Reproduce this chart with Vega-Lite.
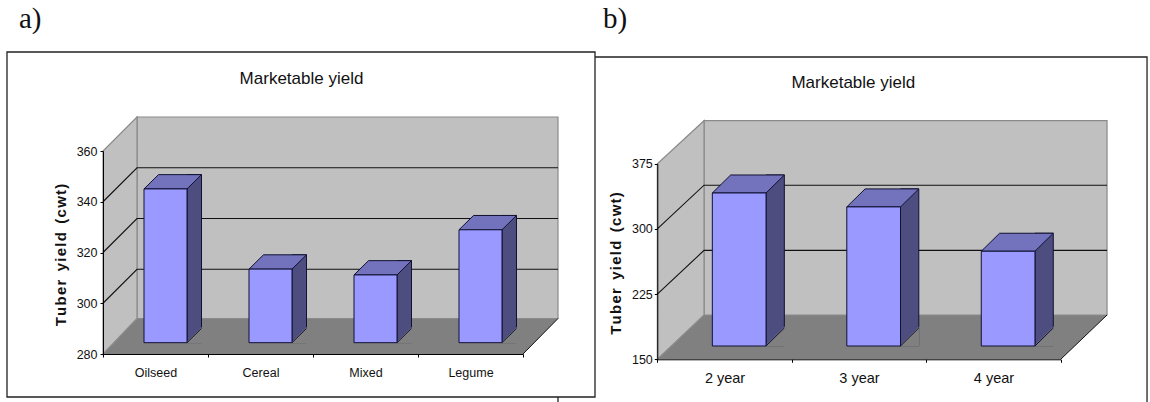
{
  "$schema": "https://vega.github.io/schema/vega-lite/v6.json",
  "padding": 0,
  "spacing": 0,
  "bounds": "flush",
  "background": "white",
  "resolve": {"scale": {"shape": "independent"}},
  "config": {
    "view": {"stroke": null},
    "font": "Liberation Sans",
    "axis": {"grid": false, "domainColor": "#000000", "tickColor": "#000000", "labelColor": "#111111", "titleColor": "#111111", "labelFont": "Liberation Sans", "titleFont": "Liberation Sans"}
  },
  "hconcat": [
    {
      "width": 595,
      "height": 402,
      "data": {"values": [
        {"rotation": "Oilseed", "yield": 340.6},
        {"rotation": "Cereal", "yield": 309},
        {"rotation": "Mixed", "yield": 306.7},
        {"rotation": "Legume", "yield": 324.5}
      ]},
      "layer": [
        {
          "data": {"values": [{"part": "floor"}]},
          "mark": {"type": "point", "filled": true, "size": 4, "opacity": 1, "fill": "#808080", "shape": "M-52.5,0 L-18.5,-35.5 L402.5,-35.5 L367.5,0 Z"},
          "encoding": {
            "x": {"datum": "Oilseed", "type": "nominal", "sort": null, "scale": {"type": "band", "domain": ["Oilseed", "Cereal", "Mixed", "Legume"], "range": [103, 523], "paddingInner": 0, "paddingOuter": 0},
              "axis": {"title": null, "orient": "bottom", "offset": -48, "tickBand": "extent", "tickSize": 3, "labelAngle": 0, "labelFontSize": 12.5, "labelPadding": 9, "zindex": 1}},
            "y": {"datum": 280, "type": "quantitative", "scale": {"domain": [280, 360], "range": [354, 151], "zero": false, "nice": false},
              "axis": {"title": "T\u200au\u200ab\u200ae\u200ar\u2009 \u200ay\u200ai\u200ae\u200al\u200ad\u2009 \u200a(\u200ac\u200aw\u200at\u200a)", "orient": "left", "offset": -103, "values": [280, 300, 320, 340, 360], "tickSize": 3, "labelFontSize": 12.5, "labelPadding": 3, "titleFontSize": 15, "titleFontWeight": "bold", "titleAngle": -90, "titleX": -43, "titleY": 254.5, "titleAlign": "center", "titleBaseline": "middle", "zindex": 1}}
          }
        },
        {
          "data": {"values": [{"part": "back wall"}, {"part": "side wall"}]},
          "mark": {"type": "point", "filled": true, "size": 4, "opacity": 1, "fill": "#c0c0c0", "stroke": "#8a8a8a", "strokeWidth": 1.2},
          "encoding": {
            "x": {"datum": "Oilseed", "type": "nominal"},
            "y": {"datum": 280, "type": "quantitative"},
            "shape": {"field": "part", "type": "nominal", "legend": null, "scale": {"domain": ["back wall", "side wall"], "range": ["M-18.5,-35.5 L-18.5,-237 L402.5,-237 L402.5,-35.5 Z", "M-52.5,0 L-52.5,-203 L-18.5,-237 L-18.5,-35.5 Z"]}}
          }
        },
        {
          "data": {"values": [{"part": "floor edge"}]},
          "mark": {"type": "point", "filled": false, "size": 4, "opacity": 1, "stroke": "#111111", "strokeWidth": 1, "shape": "M367.5,0 L402.5,-35.5"},
          "encoding": {
            "x": {"datum": "Oilseed", "type": "nominal"},
            "y": {"datum": 280, "type": "quantitative"}
          }
        },
        {
          "data": {"values": [{"tick": 300}, {"tick": 320}, {"tick": 340}]},
          "mark": {"type": "point", "filled": false, "size": 4, "opacity": 1, "stroke": "#111111", "strokeWidth": 1.1, "shape": "M-52.5,0 L-18.5,-34 L402.5,-34"},
          "encoding": {
            "x": {"datum": "Oilseed", "type": "nominal"},
            "y": {"field": "tick", "type": "quantitative"}
          }
        },
        {
          "mark": {"type": "bar", "size": 14.5, "xOffset": 38.75, "yOffset": -25.6, "y2Offset": -11.3, "fill": "#4d4d80", "stroke": "#111133", "strokeWidth": 1},
          "encoding": {
            "x": {"field": "rotation", "type": "nominal", "sort": null},
            "y": {"field": "yield", "type": "quantitative"},
            "y2": {"datum": 280}
          }
        },
        {
          "mark": {"type": "point", "filled": true, "size": 4, "opacity": 1, "fill": "#808080", "stroke": "#808080", "strokeWidth": 1.4, "shape": "M31.5,-11.3 L46,-25.6 L46,-11.3 Z"},
          "encoding": {
            "x": {"field": "rotation", "type": "nominal", "sort": null},
            "y": {"datum": 280, "type": "quantitative"}
          }
        },
        {
          "mark": {"type": "point", "filled": false, "size": 4, "opacity": 1, "stroke": "#111133", "strokeWidth": 1, "shape": "M31.5,-11.3 L46,-25.6"},
          "encoding": {
            "x": {"field": "rotation", "type": "nominal", "sort": null},
            "y": {"datum": 280, "type": "quantitative"}
          }
        },
        {
          "mark": {"type": "point", "filled": true, "size": 4, "opacity": 1, "fill": "#7373bd", "stroke": "#111133", "strokeWidth": 1, "shape": "M-11.5,-11.3 L31.5,-11.3 L46,-25.6 L3,-25.6 Z"},
          "encoding": {
            "x": {"field": "rotation", "type": "nominal", "sort": null},
            "y": {"field": "yield", "type": "quantitative"}
          }
        },
        {
          "mark": {"type": "bar", "size": 43, "xOffset": 10, "yOffset": -11.3, "y2Offset": -11.3, "fill": "#9999ff", "stroke": "#111133", "strokeWidth": 1},
          "encoding": {
            "x": {"field": "rotation", "type": "nominal", "sort": null},
            "y": {"field": "yield", "type": "quantitative"},
            "y2": {"datum": 280}
          }
        },
        {
          "data": {"values": [{"part": "frame"}]},
          "mark": {"type": "point", "filled": false, "size": 4, "opacity": 1, "stroke": "#222222", "strokeWidth": 1.3, "shape": "M-148.5,43 L-148.5,-302 L439.5,-302 L439.5,43 Z M402.5,43 L402.5,48"},
          "encoding": {
            "x": {"datum": "Oilseed", "type": "nominal"},
            "y": {"datum": 280, "type": "quantitative"}
          }
        },
        {
          "data": {"values": [{"label": "Marketable yield"}]},
          "mark": {"type": "text", "font": "Liberation Sans", "fontSize": 17, "align": "center", "baseline": "middle", "dx": 146, "dy": -275, "color": "#111111"},
          "encoding": {
            "x": {"datum": "Oilseed", "type": "nominal"},
            "y": {"datum": 280, "type": "quantitative"},
            "text": {"field": "label"}
          }
        },
        {
          "data": {"values": [{"label": "a)"}]},
          "mark": {"type": "text", "font": "Liberation Serif", "fontSize": 29, "align": "left", "baseline": "alphabetic", "dx": -136.5, "dy": -326, "color": "#111111"},
          "encoding": {
            "x": {"datum": "Oilseed", "type": "nominal"},
            "y": {"datum": 280, "type": "quantitative"},
            "text": {"field": "label"}
          }
        }
      ]
    },
    {
      "width": 555,
      "height": 402,
      "data": {"values": [
        {"duration": "2 year", "yield": 326},
        {"duration": "3 year", "yield": 310},
        {"duration": "4 year", "yield": 259}
      ]},
      "layer": [
        {
          "data": {"values": [{"part": "floor"}]},
          "mark": {"type": "point", "filled": true, "size": 4, "opacity": 1, "fill": "#808080", "shape": "M-67.2,0 L-20.5,-44.3 L382.5,-44.3 L336.2,0 Z"},
          "encoding": {
            "x": {"datum": "2 year", "type": "nominal", "sort": null, "scale": {"type": "band", "domain": ["2 year", "3 year", "4 year"], "range": [62.3, 465.7], "paddingInner": 0, "paddingOuter": 0},
              "axis": {"title": null, "orient": "bottom", "offset": -42.7, "tickBand": "extent", "tickSize": 3, "labelAngle": 0, "labelFontSize": 14.5, "labelPadding": 9, "zindex": 1}},
            "y": {"datum": 150, "type": "quantitative", "scale": {"domain": [150, 375], "range": [359.3, 163.7], "zero": false, "nice": false},
              "axis": {"title": "T\u200au\u200ab\u200ae\u200ar\u2009 \u200ay\u200ai\u200ae\u200al\u200ad\u2009 \u200a(\u200ac\u200aw\u200at\u200a)", "orient": "left", "offset": -62.3, "values": [150, 225, 300, 375], "tickSize": 3, "labelFontSize": 12.5, "labelPadding": 2, "titleFontSize": 15, "titleFontWeight": "bold", "titleAngle": -90, "titleX": -42.3, "titleY": 263, "titleAlign": "center", "titleBaseline": "middle", "zindex": 1}}
          }
        },
        {
          "data": {"values": [{"part": "back wall"}, {"part": "side wall"}]},
          "mark": {"type": "point", "filled": true, "size": 4, "opacity": 1, "fill": "#c0c0c0", "stroke": "#8a8a8a", "strokeWidth": 1.2},
          "encoding": {
            "x": {"datum": "2 year", "type": "nominal"},
            "y": {"datum": 150, "type": "quantitative"},
            "shape": {"field": "part", "type": "nominal", "legend": null, "scale": {"domain": ["back wall", "side wall"], "range": ["M-20.5,-44.3 L-20.5,-238.6 L382.5,-238.6 L382.5,-44.3 Z", "M-67.2,0 L-67.2,-195.6 L-20.5,-238.6 L-20.5,-44.3 Z"]}}
          }
        },
        {
          "data": {"values": [{"part": "floor edge"}]},
          "mark": {"type": "point", "filled": false, "size": 4, "opacity": 1, "stroke": "#111111", "strokeWidth": 1, "shape": "M336.2,0 L382.5,-44.3"},
          "encoding": {
            "x": {"datum": "2 year", "type": "nominal"},
            "y": {"datum": 150, "type": "quantitative"}
          }
        },
        {
          "data": {"values": [{"tick": 225}, {"tick": 300}]},
          "mark": {"type": "point", "filled": false, "size": 4, "opacity": 1, "stroke": "#111111", "strokeWidth": 1.1, "shape": "M-67.2,0 L-20.5,-43.7 L382.5,-43.7"},
          "encoding": {
            "x": {"datum": "2 year", "type": "nominal"},
            "y": {"field": "tick", "type": "quantitative"}
          }
        },
        {
          "mark": {"type": "bar", "size": 18.3, "xOffset": 50.65, "yOffset": -31.3, "y2Offset": -13.3, "fill": "#4d4d80", "stroke": "#111133", "strokeWidth": 1},
          "encoding": {
            "x": {"field": "duration", "type": "nominal", "sort": null},
            "y": {"field": "yield", "type": "quantitative"},
            "y2": {"datum": 150}
          }
        },
        {
          "mark": {"type": "point", "filled": true, "size": 4, "opacity": 1, "fill": "#808080", "stroke": "#808080", "strokeWidth": 1.4, "shape": "M41.5,-13.3 L59.8,-31.3 L59.8,-13.3 Z"},
          "encoding": {
            "x": {"field": "duration", "type": "nominal", "sort": null},
            "y": {"datum": 150, "type": "quantitative"}
          }
        },
        {
          "mark": {"type": "point", "filled": false, "size": 4, "opacity": 1, "stroke": "#111133", "strokeWidth": 1, "shape": "M41.5,-13.3 L59.8,-31.3"},
          "encoding": {
            "x": {"field": "duration", "type": "nominal", "sort": null},
            "y": {"datum": 150, "type": "quantitative"}
          }
        },
        {
          "mark": {"type": "point", "filled": true, "size": 4, "opacity": 1, "fill": "#7373bd", "stroke": "#111133", "strokeWidth": 1, "shape": "M-12.2,-13.3 L41.5,-13.3 L59.8,-31.3 L6.1,-31.3 Z"},
          "encoding": {
            "x": {"field": "duration", "type": "nominal", "sort": null},
            "y": {"field": "yield", "type": "quantitative"}
          }
        },
        {
          "mark": {"type": "bar", "size": 53.7, "xOffset": 14.65, "yOffset": -13.3, "y2Offset": -13.3, "fill": "#9999ff", "stroke": "#111133", "strokeWidth": 1},
          "encoding": {
            "x": {"field": "duration", "type": "nominal", "sort": null},
            "y": {"field": "yield", "type": "quantitative"},
            "y2": {"datum": 150}
          }
        },
        {
          "data": {"values": [{"part": "frame"}]},
          "mark": {"type": "point", "filled": false, "size": 4, "opacity": 1, "stroke": "#222222", "strokeWidth": 1.3, "shape": "M-129.5,-302.3 L422.5,-302.3 L422.5,42.7"},
          "encoding": {
            "x": {"datum": "2 year", "type": "nominal"},
            "y": {"datum": 150, "type": "quantitative"}
          }
        },
        {
          "data": {"values": [{"label": "Marketable yield"}]},
          "mark": {"type": "text", "font": "Liberation Sans", "fontSize": 17, "align": "center", "baseline": "middle", "dx": 128.8, "dy": -276.3, "color": "#111111"},
          "encoding": {
            "x": {"datum": "2 year", "type": "nominal"},
            "y": {"datum": 150, "type": "quantitative"},
            "text": {"field": "label"}
          }
        },
        {
          "data": {"values": [{"label": "b)"}]},
          "mark": {"type": "text", "font": "Liberation Serif", "fontSize": 29, "align": "left", "baseline": "alphabetic", "dx": -121.5, "dy": -331.3, "color": "#111111"},
          "encoding": {
            "x": {"datum": "2 year", "type": "nominal"},
            "y": {"datum": 150, "type": "quantitative"},
            "text": {"field": "label"}
          }
        }
      ]
    }
  ]
}
